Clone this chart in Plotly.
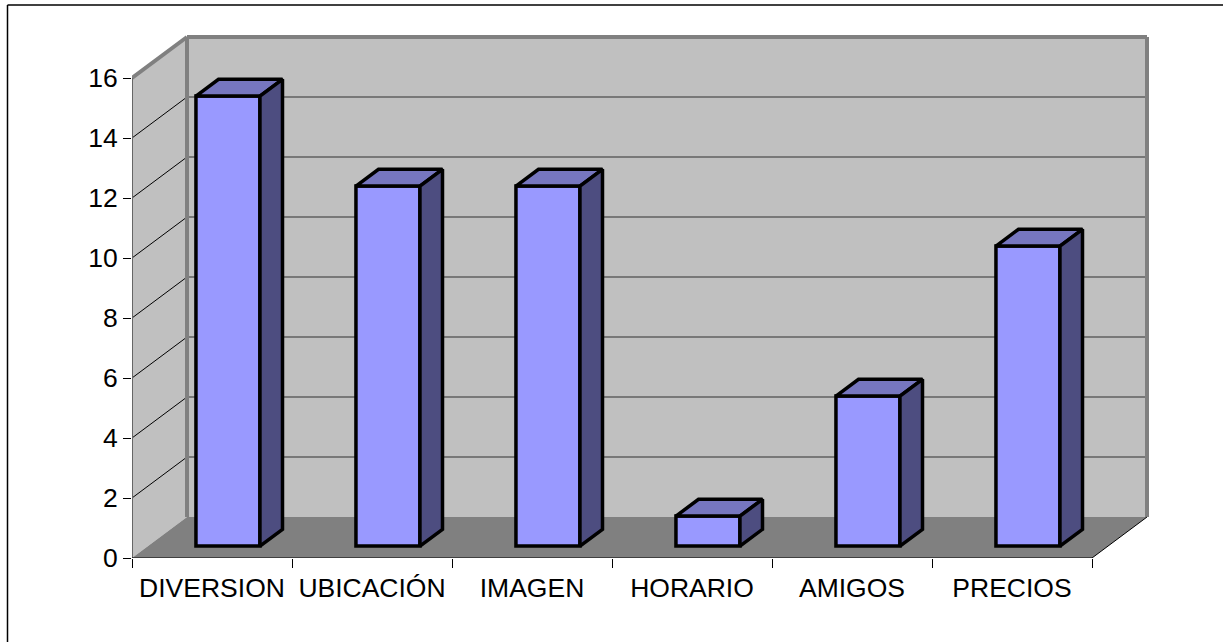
import plotly.graph_objects as go

# Survey results per category
categories = ["DIVERSION", "UBICACIÓN", "IMAGEN", "HORARIO", "AMIGOS", "PRECIOS"]
values = [15, 12, 12, 1, 5, 10]
y_ticks = [0, 2, 4, 6, 8, 10, 12, 14, 16]

WIDTH, HEIGHT = 1223, 642

# Plot box and scale, in pixels
LEFT, BOTTOM = 132, 558
PX_PER_CAT, PX_PER_UNIT = 160, 30
RIGHT_PX, TOP_PX = 1152, 33

# Oblique depth vector: how far the full depth of the box shifts a point
DEPTH_X = 55 / PX_PER_CAT
DEPTH_Y = 41 / PX_PER_UNIT

# Bars sit between these depth fractions; width is in category units
BAR_D0, BAR_D1 = 0.29, 0.70
BAR_W = 0.4

WALL = "#C0C0C0"
FLOOR = "#808080"
EDGE = "#808080"
FRONT_EDGE = "#666666"
FRONT = "#9999FF"
TOP = "#7676BF"
SIDE = "#4D4D80"

n = len(categories)
y_max = max(y_ticks)


def proj(x, y, d):
    """Oblique projection of (category pos, value, depth) to axis coordinates."""
    return x + DEPTH_X * d, y + DEPTH_Y * d


def path(points):
    pts = [proj(*p) for p in points]
    return "M" + "L".join(f"{a},{b}" for a, b in pts) + "Z"


def poly_shape(points, fill):
    return dict(type="path", xref="x", yref="y", layer="below", path=path(points),
                fillcolor=fill, line=dict(width=0))


def seg_shape(p, q, color, width):
    (x0, y0), (x1, y1) = proj(*p), proj(*q)
    return dict(type="line", xref="x", yref="y", layer="below", x0=x0, y0=y0, x1=x1, y1=y1,
                line=dict(color=color, width=width))


shapes = [
    poly_shape([(0, 0, 0), (0, 0, 1), (0, y_max, 1), (0, y_max, 0)], WALL),
    poly_shape([(0, 0, 1), (n, 0, 1), (n, y_max, 1), (0, y_max, 1)], WALL),
    poly_shape([(0, 0, 0), (n, 0, 0), (n, 0, 1), (0, 0, 1)], FLOOR),
]
for v in y_ticks[1:-1]:
    shapes.append(seg_shape((0, v, 0), (0, v, 1), "#000000", 1))
    shapes.append(seg_shape((0, v, 1), (n, v, 1), "#303030", 1))
shapes += [
    seg_shape((0, 0, 1), (0, y_max, 1), EDGE, 4),
    seg_shape((0, y_max, 1), (n, y_max, 1), EDGE, 4),
    seg_shape((n, 0, 1), (n, y_max, 1), EDGE, 4),
    seg_shape((0, y_max, 0), (0, y_max, 1), EDGE, 4),
    seg_shape((n, 0, 0), (n, 0, 1), "#000000", 1),
]

# Outer chart frame: only the top and left edges fall inside the page
px = 1 / (RIGHT_PX - LEFT)
py = 1 / (BOTTOM - TOP_PX)
frame = dict(type="line", xref="paper", yref="paper", layer="below",
             line=dict(color="#000000", width=1.5))
shapes.append(dict(frame, x0=(7.5 - LEFT) * px, x1=(WIDTH - LEFT) * px,
                   y0=(BOTTOM - 5) * py, y1=(BOTTOM - 5) * py))
shapes.append(dict(frame, x0=(7.5 - LEFT) * px, x1=(7.5 - LEFT) * px,
                   y0=(BOTTOM - HEIGHT) * py, y1=(BOTTOM - 5) * py))

fig = go.Figure()

# Front faces
bar_x0_shift = DEPTH_X * BAR_D0
fig.add_trace(go.Bar(
    x=[i + 0.5 + bar_x0_shift for i in range(n)],
    y=values,
    base=[DEPTH_Y * BAR_D0] * n,
    width=BAR_W,
    marker=dict(color=FRONT, line=dict(color="#000000", width=3.5)),
    hoverinfo="skip",
))


def face(points, fill):
    pts = [proj(*p) for p in points]
    xs = [p[0] for p in pts] + [pts[0][0]]
    ys = [p[1] for p in pts] + [pts[0][1]]
    fig.add_trace(go.Scatter(x=xs, y=ys, mode="lines", fill="toself", fillcolor=fill,
                             line=dict(color="#000000", width=3.5), hoverinfo="skip"))


# Top and right-hand faces of each bar
for i, v in enumerate(values):
    x0 = i + 0.5 - BAR_W / 2
    x1 = i + 0.5 + BAR_W / 2
    face([(x0, v, BAR_D0), (x1, v, BAR_D0), (x1, v, BAR_D1), (x0, v, BAR_D1)], TOP)
    face([(x1, 0, BAR_D0), (x1, 0, BAR_D1), (x1, v, BAR_D1), (x1, v, BAR_D0)], SIDE)

# Front edges of the box, left unclipped so they keep their full width
fig.add_trace(go.Scatter(x=[0, 0], y=[0, y_max], mode="lines", cliponaxis=False,
                         line=dict(color=FRONT_EDGE, width=2), hoverinfo="skip"))
fig.add_trace(go.Scatter(x=[0, n], y=[0, 0], mode="lines", cliponaxis=False,
                         line=dict(color="#000000", width=1), hoverinfo="skip"))

tick_font = dict(family="Liberation Sans, Arial, sans-serif", size=26.5, color="#000000")

fig.update_layout(
    width=WIDTH,
    height=HEIGHT,
    margin=dict(l=LEFT, r=WIDTH - RIGHT_PX, t=TOP_PX, b=HEIGHT - BOTTOM, pad=0),
    paper_bgcolor="#FFFFFF",
    plot_bgcolor="#FFFFFF",
    showlegend=False,
    shapes=shapes,
    xaxis=dict(
        range=[0, (RIGHT_PX - LEFT) / PX_PER_CAT],
        tickmode="array",
        tickvals=[i + 0.5 for i in range(n)],
        ticktext=categories,
        ticks="",
        ticklen=0,
        tickfont=tick_font,
        tickangle=0,
        showgrid=False,
        zeroline=False,
        showline=False,
        ticklabelstandoff=11,
        minor=dict(tickmode="array", tickvals=list(range(n + 1)), ticks="outside",
                   ticklen=9, tickwidth=1, tickcolor="#000000", showgrid=False),
    ),
    yaxis=dict(
        range=[0, (BOTTOM - TOP_PX) / PX_PER_UNIT],
        tickmode="array",
        tickvals=y_ticks,
        ticks="outside",
        ticklen=8,
        tickwidth=1,
        tickcolor="#000000",
        tickfont=tick_font,
        showgrid=False,
        zeroline=False,
        showline=False,
    ),
)

fig.write_html("out.html")
